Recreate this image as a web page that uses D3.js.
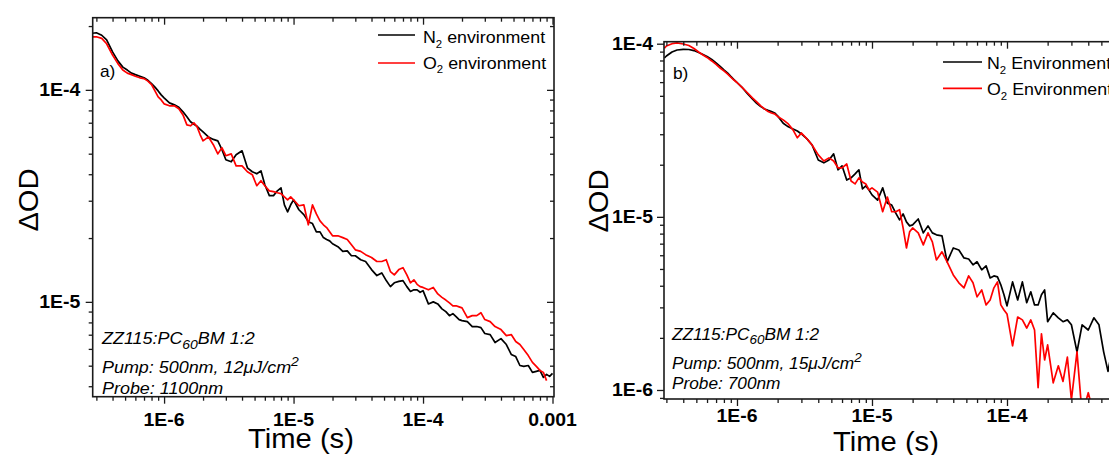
<!DOCTYPE html>
<html>
<head>
<meta charset="utf-8">
<script src="https://cdn.jsdelivr.net/npm/d3@7"></script>
<style>
  html, body { margin: 0; padding: 0; background: #fff; }
  svg { display: block; }
</style>
</head>
<body>
<svg id="chart" width="1109" height="455"></svg>
<script>
// ---------- data: transient absorption decays (time in s, ΔOD) ----------
const timeA = [
  2.8e-7, 3.0e-7, 3.3e-7, 3.6e-7, 4.0e-7, 4.4e-7, 4.8e-7, 5.2e-7, 5.6e-7, 6.0e-7, 6.5e-7, 7.0e-7, 7.5e-7, 8.0e-7, 8.5e-7, 9.0e-7, 9.5e-7,
  1.0e-6, 1.1e-6, 1.2e-6, 1.3e-6, 1.4e-6, 1.5e-6, 1.6e-6, 1.7e-6, 1.8e-6, 1.9e-6, 2.0e-6, 2.2e-6, 2.4e-6, 2.6e-6, 2.8e-6, 3.0e-6, 3.3e-6, 3.6e-6, 4.0e-6, 4.4e-6, 4.8e-6, 5.2e-6, 5.6e-6, 6.0e-6, 6.5e-6, 7.0e-6, 7.5e-6, 8.0e-6, 8.5e-6, 9.0e-6, 9.5e-6,
  1.0e-5, 1.1e-5, 1.2e-5, 1.3e-5, 1.4e-5, 1.5e-5, 1.6e-5, 1.7e-5, 1.8e-5, 1.9e-5, 2.0e-5, 2.2e-5, 2.4e-5, 2.6e-5, 2.8e-5, 3.0e-5, 3.3e-5, 3.6e-5, 4.0e-5, 4.4e-5, 4.8e-5, 5.2e-5, 5.6e-5, 6.0e-5, 6.5e-5, 7.0e-5, 7.5e-5, 8.0e-5, 8.5e-5, 9.0e-5, 9.5e-5,
  1.0e-4, 1.1e-4, 1.2e-4, 1.3e-4, 1.4e-4, 1.5e-4, 1.6e-4, 1.7e-4, 1.8e-4, 1.9e-4, 2.0e-4, 2.2e-4, 2.4e-4, 2.6e-4, 2.8e-4, 3.0e-4, 3.3e-4, 3.6e-4, 4.0e-4, 4.4e-4, 4.8e-4, 5.2e-4, 5.6e-4, 6.0e-4, 6.5e-4, 7.0e-4, 7.5e-4, 8.0e-4, 8.5e-4, 9.0e-4, 9.5e-4,
  1.0e-3
];
const n2A = [
  1.85e-4, 1.86e-4, 1.81e-4, 1.72e-4, 1.51e-4, 1.37e-4, 1.28e-4, 1.24e-4, 1.20e-4, 1.18e-4, 1.16e-4, 1.14e-4, 1.11e-4, 1.07e-4, 1.03e-4, 9.89e-5, 9.47e-5,
  9.17e-5, 8.68e-5, 8.50e-5, 8.27e-5, 7.88e-5, 7.46e-5, 7.07e-5, 6.88e-5, 6.73e-5, 6.51e-5, 6.34e-5, 6.00e-5, 5.84e-5, 5.75e-5, 5.22e-5, 4.68e-5, 4.58e-5, 4.94e-5, 5.16e-5, 4.29e-5, 4.11e-5, 4.02e-5, 4.15e-5, 3.57e-5, 3.17e-5, 3.17e-5, 3.34e-5, 3.45e-5, 2.87e-5, 2.66e-5, 2.87e-5,
  3.03e-5, 2.72e-5, 2.58e-5, 2.39e-5, 2.34e-5, 2.14e-5, 2.14e-5, 2.01e-5, 1.97e-5, 1.94e-5, 1.88e-5, 1.82e-5, 1.73e-5, 1.74e-5, 1.65e-5, 1.65e-5, 1.58e-5, 1.55e-5, 1.42e-5, 1.33e-5, 1.37e-5, 1.26e-5, 1.18e-5, 1.23e-5, 1.25e-5, 1.26e-5, 1.18e-5, 1.12e-5, 1.14e-5, 1.14e-5, 1.11e-5,
  1.13e-5, 9.78e-6, 1.00e-5, 9.78e-6, 9.27e-6, 8.99e-6, 8.61e-6, 8.80e-6, 8.52e-6, 8.25e-6, 8.16e-6, 8.07e-6, 7.65e-6, 7.65e-6, 7.56e-6, 7.09e-6, 7.01e-6, 6.43e-6, 6.71e-6, 6.29e-6, 5.65e-6, 5.52e-6, 5.01e-6, 4.96e-6, 5.01e-6, 4.65e-6, 4.70e-6, 4.75e-6, 4.40e-6, 4.55e-6, 4.45e-6,
  4.60e-6
];
const o2A = [
  1.78e-4, 1.78e-4, 1.75e-4, 1.65e-4, 1.46e-4, 1.33e-4, 1.24e-4, 1.20e-4, 1.18e-4, 1.16e-4, 1.14e-4, 1.13e-4, 1.10e-4, 1.06e-4, 9.89e-5, 9.27e-5, 8.97e-5,
  8.59e-5, 8.41e-5, 8.41e-5, 8.14e-5, 7.62e-5, 6.84e-5, 6.77e-5, 6.99e-5, 6.69e-5, 6.14e-5, 5.75e-5, 6.00e-5, 5.51e-5, 4.99e-5, 5.33e-5, 4.89e-5, 4.99e-5, 4.38e-5, 4.38e-5, 4.11e-5, 3.98e-5, 3.53e-5, 3.73e-5, 3.53e-5, 3.34e-5, 3.31e-5, 3.27e-5, 3.24e-5, 3.13e-5, 3.03e-5, 3.13e-5,
  3.03e-5, 2.84e-5, 2.87e-5, 2.31e-5, 2.87e-5, 2.60e-5, 2.41e-5, 2.31e-5, 2.24e-5, 2.14e-5, 2.05e-5, 2.05e-5, 2.01e-5, 1.97e-5, 1.86e-5, 1.76e-5, 1.73e-5, 1.67e-5, 1.62e-5, 1.55e-5, 1.55e-5, 1.58e-5, 1.39e-5, 1.34e-5, 1.42e-5, 1.45e-5, 1.34e-5, 1.23e-5, 1.27e-5, 1.21e-5, 1.18e-5,
  1.17e-5, 1.14e-5, 1.17e-5, 1.09e-5, 1.05e-5, 1.02e-5, 9.89e-6, 9.58e-6, 9.58e-6, 9.47e-6, 9.37e-6, 8.43e-6, 8.61e-6, 8.61e-6, 8.89e-6, 8.25e-6, 8.07e-6, 7.65e-6, 7.40e-6, 6.93e-6, 7.01e-6, 6.50e-6, 6.29e-6, 5.96e-6, 5.58e-6, 5.18e-6, 4.96e-6, 4.75e-6, 4.65e-6, 4.25e-6
];

const timeB = [
  2.9e-7, 3.0e-7, 3.3e-7, 3.6e-7, 4.0e-7, 4.4e-7, 4.8e-7, 5.2e-7, 5.6e-7, 6.0e-7, 6.5e-7, 7.0e-7, 7.5e-7, 8.0e-7, 8.5e-7, 9.0e-7, 9.5e-7,
  1.0e-6, 1.1e-6, 1.2e-6, 1.3e-6, 1.4e-6, 1.5e-6, 1.6e-6, 1.7e-6, 1.8e-6, 1.9e-6, 2.0e-6, 2.2e-6, 2.4e-6, 2.6e-6, 2.8e-6, 3.0e-6, 3.3e-6, 3.6e-6, 4.0e-6, 4.4e-6, 4.8e-6, 5.2e-6, 5.6e-6, 6.0e-6, 6.5e-6, 7.0e-6, 7.5e-6, 8.0e-6, 8.5e-6, 9.0e-6, 9.5e-6,
  1.0e-5, 1.1e-5, 1.2e-5, 1.3e-5, 1.4e-5, 1.5e-5, 1.6e-5, 1.7e-5, 1.8e-5, 1.9e-5, 2.0e-5, 2.2e-5, 2.4e-5, 2.6e-5, 2.8e-5, 3.0e-5, 3.3e-5, 3.6e-5, 4.0e-5, 4.4e-5, 4.8e-5, 5.2e-5, 5.6e-5, 6.0e-5, 6.5e-5, 7.0e-5, 7.5e-5, 8.0e-5, 8.5e-5, 9.0e-5, 9.5e-5,
  1.0e-4, 1.1e-4, 1.2e-4, 1.3e-4, 1.4e-4, 1.5e-4, 1.6e-4, 1.7e-4, 1.8e-4, 1.9e-4, 2.0e-4, 2.2e-4, 2.4e-4, 2.6e-4, 2.8e-4, 3.0e-4, 3.3e-4, 3.6e-4, 4.0e-4, 4.4e-4, 4.8e-4, 5.2e-4, 5.6e-4, 6.0e-4
];
const n2B = [
  8.27e-5, 8.49e-5, 8.96e-5, 9.20e-5, 9.28e-5, 9.26e-5, 9.13e-5, 8.90e-5, 8.66e-5, 8.44e-5, 8.11e-5, 7.74e-5, 7.39e-5, 7.05e-5, 6.78e-5, 6.47e-5, 6.21e-5,
  5.97e-5, 5.55e-5, 5.13e-5, 4.80e-5, 4.52e-5, 4.33e-5, 4.20e-5, 4.12e-5, 4.06e-5, 3.98e-5, 3.83e-5, 3.47e-5, 3.31e-5, 3.22e-5, 3.13e-5, 3.01e-5, 2.82e-5, 2.60e-5, 2.13e-5, 2.05e-5, 2.13e-5, 2.31e-5, 1.87e-5, 1.97e-5, 1.63e-5, 1.68e-5, 1.77e-5, 1.87e-5, 1.45e-5, 1.51e-5, 1.43e-5,
  1.34e-5, 1.25e-5, 1.47e-5, 1.20e-5, 1.17e-5, 1.05e-5, 9.60e-6, 1.04e-5, 9.35e-6, 8.87e-6, 8.99e-6, 9.72e-6, 8.08e-6, 8.87e-6, 8.08e-6, 7.87e-6, 7.76e-6, 5.50e-6, 6.61e-6, 6.44e-6, 5.79e-6, 5.71e-6, 5.28e-6, 5.50e-6, 4.94e-6, 5.21e-6, 4.44e-6, 4.56e-6, 4.50e-6, 4.05e-6, 3.55e-6,
  3.06e-6, 4.21e-6, 3.31e-6, 4.21e-6, 3.19e-6, 3.69e-6, 3.10e-6, 3.10e-6, 3.55e-6, 3.78e-6, 2.48e-6, 2.79e-6, 2.61e-6, 2.48e-6, 2.54e-6, 2.38e-6, 1.66e-6, 2.38e-6, 2.22e-6, 2.61e-6, 2.38e-6, 1.66e-6, 1.28e-6, 1.70e-6
];
const o2B = [
  9.41e-5, 9.70e-5, 1.00e-4, 1.01e-4, 9.96e-5, 9.76e-5, 9.38e-5, 8.96e-5, 8.61e-5, 8.33e-5, 7.95e-5, 7.59e-5, 7.24e-5, 6.96e-5, 6.69e-5, 6.42e-5, 6.17e-5,
  5.97e-5, 5.55e-5, 5.19e-5, 4.86e-5, 4.61e-5, 4.37e-5, 4.20e-5, 4.06e-5, 3.98e-5, 3.93e-5, 3.80e-5, 3.63e-5, 3.44e-5, 3.18e-5, 2.86e-5, 3.05e-5, 2.82e-5, 2.60e-5, 2.28e-5, 2.10e-5, 2.19e-5, 2.10e-5, 1.92e-5, 1.92e-5, 2.02e-5, 1.61e-5, 1.55e-5, 1.68e-5, 1.59e-5, 1.55e-5, 1.43e-5,
  1.47e-5, 1.39e-5, 1.07e-5, 1.30e-5, 1.07e-5, 1.07e-5, 1.10e-5, 8.63e-6, 6.61e-6, 8.19e-6, 8.63e-6, 8.08e-6, 6.89e-6, 8.08e-6, 7.17e-6, 5.64e-6, 6.28e-6, 5.50e-6, 4.62e-6, 4.16e-6, 3.89e-6, 4.56e-6, 4.16e-6, 3.45e-6, 3.78e-6, 3.10e-6, 3.31e-6, 3.89e-6, 4.21e-6, 3.10e-6, 2.90e-6,
  2.75e-6, 1.80e-6, 2.64e-6, 2.54e-6, 2.28e-6, 2.54e-6, 2.22e-6, 1.03e-6, 2.11e-6, 1.49e-6, 1.82e-6, 1.10e-6, 1.38e-6, 1.12e-6, 1.55e-6, 8.77e-7, 1.66e-6, 7.2e-7, 9.64e-7, 7.2e-7
];

// ---------- tick labels ----------
const xMajor = [1e-6, 1e-5, 1e-4, 1e-3];
const xLabelsA = ["1E-6", "1E-5", "1E-4", "0.001"];
const xLabelsB = ["1E-6", "1E-5", "1E-4", "1E-3"];
const yMajorA = [1e-4, 1e-5];
const yLabelsA = ["1E-4", "1E-5"];
const yMajorB = [1e-4, 1e-5, 1e-6];
const yLabelsB = ["1E-4", "1E-5", "1E-6"];

// ---------- drawing ----------
const WIDTH = 1109;
const FONT = "'Liberation Sans', Arial, Helvetica, sans-serif";
const SX = 1.08;            // slight horizontal widening of all lettering
const FRAME = "#1a1a1a";
const svg = d3.select("#chart");

function addText(parent, x, y, parts, o = {}) {
  const size = o.size || 16;
  const subRatio = o.subRatio || 0.64;
  const t = parent.append("text")
    .attr("transform", `translate(${x},${y})` + (o.rotate ? ` rotate(${o.rotate})` : "") + ` scale(${SX},1)`)
    .attr("font-family", FONT)
    .attr("font-size", size)
    .attr("font-weight", o.weight || "normal")
    .attr("font-style", o.style || "normal")
    .attr("text-anchor", o.anchor || "start")
    .attr("fill", "#000");
  let shift = 0;
  (Array.isArray(parts) ? parts : [[parts]]).forEach(([str, kind]) => {
    const target = kind === "sub" ? 0.28 : kind === "sup" ? -0.4 : 0;
    const sp = t.append("tspan").text(str);
    const dy = (target - shift) * size;
    if (dy) sp.attr("dy", dy.toFixed(2));
    if (kind) sp.attr("font-size", (size * subRatio).toFixed(2));
    shift = target;
  });
  return t;
}

function minorTicks(domain) {
  const out = [];
  for (let e = -8; e <= -2; e++) {
    for (let m = 2; m <= 9; m++) {
      const v = m * Math.pow(10, e);
      if (v >= domain[0] && v <= domain[1]) out.push(v);
    }
  }
  return out;
}

function drawPanel(p) {
  const x = d3.scaleLog().domain(p.xDomain).range(p.xRange);
  const y = d3.scaleLog().domain(p.yDomain).range(p.yRange);
  const [xl, xr] = p.xRange;
  const [yb, yt] = p.yRange;
  const g = svg.append("g");

  g.append("clipPath").attr("id", "clip-" + p.id)
    .append("rect").attr("x", xl).attr("y", yt).attr("width", xr - xl).attr("height", yb - yt);

  const line = d3.line().x(d => x(d[0])).y(d => y(d[1])).curve(d3.curveLinear);
  p.series.forEach(s => {
    const pts = s.values.map((v, i) => [s.time[i], v]);
    g.append("path")
      .attr("clip-path", `url(#clip-${p.id})`)
      .attr("d", line(pts))
      .attr("fill", "none")
      .attr("stroke", s.color)
      .attr("stroke-width", 1.7)
      .attr("stroke-linejoin", "round");
  });

  const xMin = minorTicks(p.xDomain);
  const yMin = minorTicks(p.yDomain);
  const xMaj = xMajor.filter(v => v >= p.xDomain[0] && v <= p.xDomain[1] * 1.0001);
  const yMaj = p.yMajor;

  const axes = [
    { make: d3.axisBottom(x), at: `translate(0,${yb})`, vals: xMin, len: 4 },
    { make: d3.axisBottom(x), at: `translate(0,${yb})`, vals: xMaj, len: 7 },
    { make: d3.axisTop(x), at: `translate(0,${yt})`, vals: xMin, len: -4 },
    { make: d3.axisTop(x), at: `translate(0,${yt})`, vals: xMaj, len: -7 },
    { make: d3.axisLeft(y), at: `translate(${xl},0)`, vals: yMin, len: 4 },
    { make: d3.axisLeft(y), at: `translate(${xl},0)`, vals: yMaj, len: 7 },
    { make: d3.axisRight(y), at: `translate(${xr},0)`, vals: yMin, len: -4 },
    { make: d3.axisRight(y), at: `translate(${xr},0)`, vals: yMaj, len: -7 }
  ];
  axes.forEach(a => {
    const ag = g.append("g").attr("transform", a.at)
      .call(a.make.tickValues(a.vals).tickFormat(() => "").tickSizeInner(a.len).tickSizeOuter(0));
    ag.select(".domain").remove();
    ag.selectAll("line").attr("stroke", FRAME).attr("stroke-width", 1.3);
  });

  g.append("rect")
    .attr("x", xl).attr("y", yt).attr("width", xr - xl).attr("height", yb - yt)
    .attr("fill", "none").attr("stroke", FRAME).attr("stroke-width", 1.6);

  // tick labels (only those that fall inside the drawing)
  xMaj.forEach(v => {
    if (x(v) + 15 > WIDTH) return;
    addText(g, x(v), p.xLabelBase, p.xLabels[xMajor.indexOf(v)], { size: 18, weight: "bold", anchor: "middle" });
  });
  yMaj.forEach((v, i) => {
    addText(g, xl - p.yLabelGap, y(v) + 6.5, p.yLabels[i], { size: 18, weight: "bold", anchor: "end" });
  });

  // axis titles
  addText(g, p.xTitle[0], p.xTitle[1], "Time (s)", { size: 27, anchor: "middle" });
  addText(g, p.yTitle[0], p.yTitle[1], "\u0394OD", { size: 27, anchor: "middle", rotate: -90 });

  // panel tag
  addText(g, p.tag[0], p.tag[1], p.tag[2], { size: 16 });

  // legend
  p.legend.forEach(L => {
    g.append("line")
      .attr("x1", L.x1).attr("x2", L.x2).attr("y1", L.y).attr("y2", L.y)
      .attr("stroke", L.color).attr("stroke-width", 1.7);
    addText(g, L.tx, L.ty, L.parts, { size: p.legendSize });
  });

  // sample / measurement notes
  p.notes.forEach(n => addText(g, p.noteX, n.y, n.parts, { size: p.noteSize, style: "italic", subRatio: 0.78 }));
}

drawPanel({
  id: "a",
  xDomain: [2.81e-7, 1.027e-3], xRange: [92.7, 554],
  yDomain: [3.57e-6, 2.19e-4], yRange: [396.7, 17.7],
  yMajor: yMajorA, yLabels: yLabelsA, xLabels: xLabelsA,
  xLabelBase: 425.5, yLabelGap: 12.5,
  xTitle: [301, 448], yTitle: [38, 200],
  tag: [100, 77, "a)"],
  series: [
    { time: timeA, values: n2A, color: "#000000" },
    { time: timeA, values: o2A, color: "#ff0000" }
  ],
  legendSize: 16.5,
  legend: [
    { x1: 378, x2: 415, y: 35, color: "#000000", tx: 423, ty: 43, parts: [["N"], ["2", "sub"], [" environment"]] },
    { x1: 378, x2: 415, y: 63, color: "#ff0000", tx: 423, ty: 68.5, parts: [["O"], ["2", "sub"], [" environment"]] }
  ],
  noteX: 102, noteSize: 16.6,
  notes: [
    { y: 344, parts: [["ZZ115:PC"], ["60", "sub"], ["BM 1:2"]] },
    { y: 372.5, parts: [["Pump: 500nm, 12\u03bcJ/cm"], ["2", "sup"]] },
    { y: 394, parts: [["Probe: 1100nm"]] }
  ]
});

drawPanel({
  id: "b",
  xDomain: [2.88e-7, 1.0e-3], xRange: [664, 1142],
  yDomain: [8.87e-7, 1.027e-4], yRange: [399, 41.7],
  yMajor: yMajorB, yLabels: yLabelsB, xLabels: xLabelsB,
  xLabelBase: 422, yLabelGap: 11,
  xTitle: [886, 451], yTitle: [608, 201],
  tag: [673, 79, "b)"],
  series: [
    { time: timeB, values: n2B, color: "#000000" },
    { time: timeB, values: o2B, color: "#ff0000" }
  ],
  legendSize: 16.5,
  legend: [
    { x1: 943, x2: 982, y: 62, color: "#000000", tx: 987, ty: 69, parts: [["N"], ["2", "sub"], [" Environment"]] },
    { x1: 943, x2: 982, y: 88.3, color: "#ff0000", tx: 987, ty: 95, parts: [["O"], ["2", "sub"], [" Environment"]] }
  ],
  noteX: 672, noteSize: 16,
  notes: [
    { y: 340, parts: [["ZZ115:PC"], ["60", "sub"], ["BM 1:2"]] },
    { y: 368.5, parts: [["Pump: 500nm, 15\u03bcJ/cm"], ["2", "sup"]] },
    { y: 388.5, parts: [["Probe: 700nm"]] }
  ]
});
</script>
</body>
</html>
